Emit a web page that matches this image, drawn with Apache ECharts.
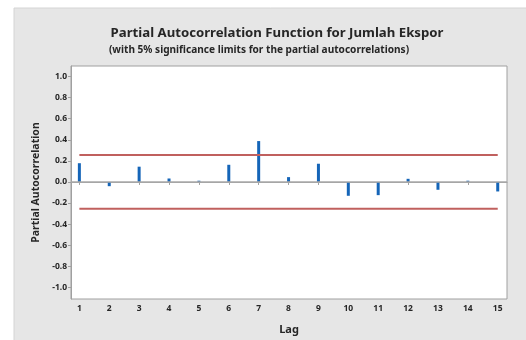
<!DOCTYPE html>
<html>
<head>
<meta charset="utf-8">
<script src="https://cdn.jsdelivr.net/npm/echarts@6/dist/echarts.min.js"></script>
<style>
  html, body { margin: 0; padding: 0; background: #fff; }
  #chart { width: 526px; height: 340px; }
</style>
</head>
<body>
<div id="chart"></div>
<script>
// PACF values, lags 1..15
const lags = [1, 2, 3, 4, 5, 6, 7, 8, 9, 10, 11, 12, 13, 14, 15];
const pacf = [0.178, -0.040, 0.145, 0.033, 0.012, 0.163, 0.388, 0.046, 0.173, -0.131, -0.125, 0.030, -0.074, 0.012, -0.090];
const limit = 0.255;
const yTicks = [-1.0, -0.8, -0.6, -0.4, -0.2, 0.0, 0.2, 0.4, 0.6, 0.8, 1.0];

const font = '"Noto Sans", "Open Sans", sans-serif';
const dark = '#262626';

let chart = echarts.init(document.getElementById('chart'));

chart.setOption({
    animation: false,
    backgroundColor: '#fff',
    graphic: [{
        type: 'rect',
        z: -10,
        shape: {x: 14, y: 8, width: 520, height: 340},
        style: {fill: '#e6e6e6', stroke: '#d4d4d4', lineWidth: 1}
    }],
    title: [{
        text: 'Partial Autocorrelation Function for Jumlah Ekspor',
        left: 272, top: 22, textAlign: 'center',
        textStyle: {fontFamily: font, fontSize: 13.2, fontWeight: 'bold', color: dark}
    }, {
        text: '(with 5% significance limits for the partial autocorrelations)',
        left: 254, top: 40, textAlign: 'center',
        textStyle: {fontFamily: font, fontSize: 10.1, fontWeight: 'bold', color: dark}
    }],
    grid: {
        left: 71, top: 66, width: 436, height: 234,
        show: true, backgroundColor: '#fff', borderColor: '#a0a0a0', borderWidth: 1
    },
    xAxis: {
        type: 'value',
        min: 0.72, max: 15.31,
        name: 'Lag', nameLocation: 'middle', nameGap: 25,
        nameTextStyle: {fontFamily: font, fontSize: 11, fontWeight: 'bold', color: dark},
        splitLine: {show: false},
        axisLine: {show: true, lineStyle: {color: '#a0a0a0'}},
        axisTick: {show: true, length: 3, customValues: lags, lineStyle: {color: '#a0a0a0'}},
        axisLabel: {
            customValues: lags, margin: 5,
            fontFamily: font, fontSize: 8.5, fontWeight: 'bold', color: dark
        }
    },
    yAxis: {
        type: 'value',
        min: -1.11, max: 1.1,
        name: 'Partial Autocorrelation', nameLocation: 'middle', nameGap: 29,
        nameTextStyle: {fontFamily: font, fontSize: 10.5, fontWeight: 'bold', color: dark},
        splitLine: {show: false},
        axisLine: {show: true, lineStyle: {color: '#a0a0a0'}},
        axisTick: {show: true, length: 3, customValues: yTicks, lineStyle: {color: '#a0a0a0'}},
        axisLabel: {
            customValues: yTicks, margin: 4,
            formatter: v => v.toFixed(1),
            fontFamily: font, fontSize: 8.5, fontWeight: 'bold', color: dark
        }
    },
    series: [{
        type: 'bar',
        barWidth: 3,
        itemStyle: {color: '#1565b8'},
        data: lags.map((l, i) => [l, pacf[i]]),
        markLine: {
            silent: true,
            symbol: 'none',
            label: {show: false},
            lineStyle: {color: '#a8a8a8', width: 1.5, type: 'solid'},
            data: [{yAxis: 0}]
        }
    }, {
        type: 'line',
        symbol: 'none',
        lineStyle: {color: '#c0605e', width: 2},
        data: [[lags[0], limit], [lags[lags.length - 1], limit]]
    }, {
        type: 'line',
        symbol: 'none',
        lineStyle: {color: '#c0605e', width: 2},
        data: [[lags[0], -limit], [lags[lags.length - 1], -limit]]
    }]
});

window.addEventListener('resize', function () {
    chart.resize();
});
</script>
</body>
</html>
